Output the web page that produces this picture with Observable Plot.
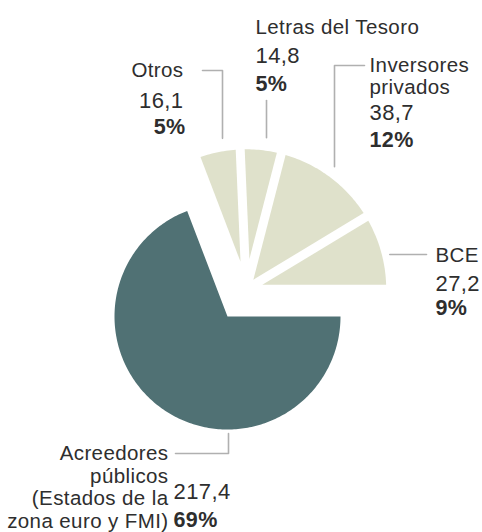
<!DOCTYPE html>
<html>
<head>
<meta charset="utf-8">
<script src="https://cdn.jsdelivr.net/npm/d3@7"></script>
<script src="https://cdn.jsdelivr.net/npm/@observablehq/plot@0.6"></script>
<style>
  body { margin: 0; background: #fff; }
  #chart svg { font-family: "Liberation Sans", Arial, sans-serif; letter-spacing: 0.4px; }
</style>
</head>
<body>
<div id="chart"></div>
<script>
// Holders of the debt (billions of euros), clockwise from 3 o'clock
const categories = ["Acreedores públicos", "Otros", "Letras del Tesoro", "Inversores privados", "BCE"];
const amounts = [217.4, 16.1, 14.8, 38.7, 27.2];
const nameLines = [
  ["Acreedores", "públicos", "(Estados de la", "zona euro y FMI)"],
  ["Otros"],
  ["Letras del Tesoro"],
  ["Inversores", "privados"],
  ["BCE"]
];
const sliceColors = ["#507174", "#dfe1cb", "#dfe1cb", "#dfe1cb", "#dfe1cb"];

// ---- geometry of the pie (pixel space) ----
const W = 482, H = 532;
const center = [227, 316];     // centre of the large slice
const rMain = 113;             // radius of the large slice
const rSmall = 140;            // radius of the small slices
const explode = 33;            // the small slices are pulled out as a group
const halfGap = 4.5;           // half the white gap between small slices

const total = d3.sum(amounts);
const fmtNum = v => d3.format(".1f")(v).replace(".", ",");
const fmtPct = v => Math.round(v / total * 100) + "%";

const arcs = d3.pie().sort(null)
  .startAngle(Math.PI / 2).endAngle(Math.PI / 2 + 2 * Math.PI)(amounts);

// the small slices share a centre shifted along their common bisector
const groupMid = (arcs[1].startAngle + arcs[4].endAngle) / 2;
const center2 = [center[0] + explode * Math.sin(groupMid), center[1] - explode * Math.cos(groupMid)];

const polar = (c, r, a) => [c[0] + r * Math.sin(a), c[1] - r * Math.cos(a)];

const slicePoints = [];
arcs.forEach((a, i) => {
  const name = categories[i];
  let c, r, a0, a1, tip;
  if (i === 0) {
    c = center; r = rMain; a0 = a.startAngle; a1 = a.endAngle; tip = c;
  } else {
    c = center2; r = rSmall;
    const d = Math.asin(halfGap / r);
    a0 = a.startAngle + d; a1 = a.endAngle - d;
    const half = (a.endAngle - a.startAngle) / 2;
    tip = polar(c, halfGap / Math.sin(half), (a.startAngle + a.endAngle) / 2);
  }
  slicePoints.push({name, x: tip[0], y: tip[1]});
  const n = Math.max(8, Math.ceil((a1 - a0) / (Math.PI / 180)));
  for (let k = 0; k <= n; ++k) {
    const p = polar(c, r, a0 + (a1 - a0) * k / n);
    slicePoints.push({name, x: p[0], y: p[1]});
  }
});

// y on the top/bottom of a circle for a given x, and x on its right for a given y
const topY = (c, r, x) => c[1] - Math.sqrt(r * r - (x - c[0]) ** 2);
const botY = (c, r, x) => c[1] + Math.sqrt(r * r - (x - c[0]) ** 2);
const rightX = (c, r, y) => c[0] + Math.sqrt(r * r - (y - c[1]) ** 2);

// ---- label layout ----
const layout = {
  "Acreedores públicos": {anchor: "end", x: 168, ys: [453, 476, 498, 521], vx: 173, vanchor: "start", numY: 491, pctY: 520,
    leader: [[175, 453], [228, 453], [228, botY(center, rMain, 228) + 4]]},
  "Otros": {anchor: "end", x: 183, ys: [70], vx: 183, vanchor: "end", pctX: 185, numY: 100, pctY: 127,
    leader: [[202, 70], [222, 70], [222, topY(center2, rSmall, 222) - 13]]},
  "Letras del Tesoro": {anchor: "start", x: 255, ys: [27], vx: 255, vanchor: "start", numY: 55, pctY: 84,
    leader: [[266, 100], [266, topY(center2, rSmall, 266) - 13]]},
  "Inversores privados": {anchor: "start", x: 369, ys: [65, 87], vx: 369, vanchor: "start", numY: 112, pctY: 140,
    leader: [[364, 65], [334, 65], [334, topY(center2, rSmall, 334) - 14]]},
  "BCE": {anchor: "start", x: 435, ys: [255], vx: 435, vanchor: "start", numY: 283, pctY: 308,
    leader: [[426, 254], [rightX(center2, rSmall, 254) + 8, 254]]}
};

const nameRows = [], numRows = [], pctRows = [], leaderPoints = [];
categories.forEach((name, i) => {
  const L = layout[name];
  nameLines[i].forEach((t, k) => nameRows.push({text: t, x: L.x, y: L.ys[k], anchor: L.anchor}));
  numRows.push({text: fmtNum(amounts[i]), x: L.vx, y: L.numY, anchor: L.vanchor});
  pctRows.push({text: fmtPct(amounts[i]), x: L.pctX ?? L.vx, y: L.pctY, anchor: L.vanchor});
  L.leader.forEach(([x, y]) => leaderPoints.push({name, x, y}));
});

const textMarks = (rows, opts) => ["start", "end"].map(anchor =>
  Plot.text(rows.filter(d => d.anchor === anchor), {
    x: "x", y: "y", text: "text", textAnchor: anchor, lineAnchor: "middle", ...opts
  }));

const chart = Plot.plot({
  width: W, height: H,
  margin: 0,
  x: {domain: [0, W], axis: null},
  y: {domain: [0, H], range: [0, H], axis: null},
  color: {domain: categories, range: sliceColors},
  marks: [
    Plot.line(slicePoints, {x: "x", y: "y", z: "name", fill: "name", stroke: "none"}),
    Plot.line(leaderPoints, {x: "x", y: "y", z: "name", stroke: "#b0b0b0", strokeWidth: 1.6}),
    ...textMarks(nameRows, {fontSize: 20.5, fill: "#2e2e2e"}),
    ...textMarks(numRows, {fontSize: 22, fill: "#2e2e2e"}),
    ...textMarks(pctRows, {fontSize: 21.5, fontWeight: "bold", fill: "#2e2e2e"})
  ]
});
document.getElementById("chart").appendChild(chart);
</script>
</body>
</html>
